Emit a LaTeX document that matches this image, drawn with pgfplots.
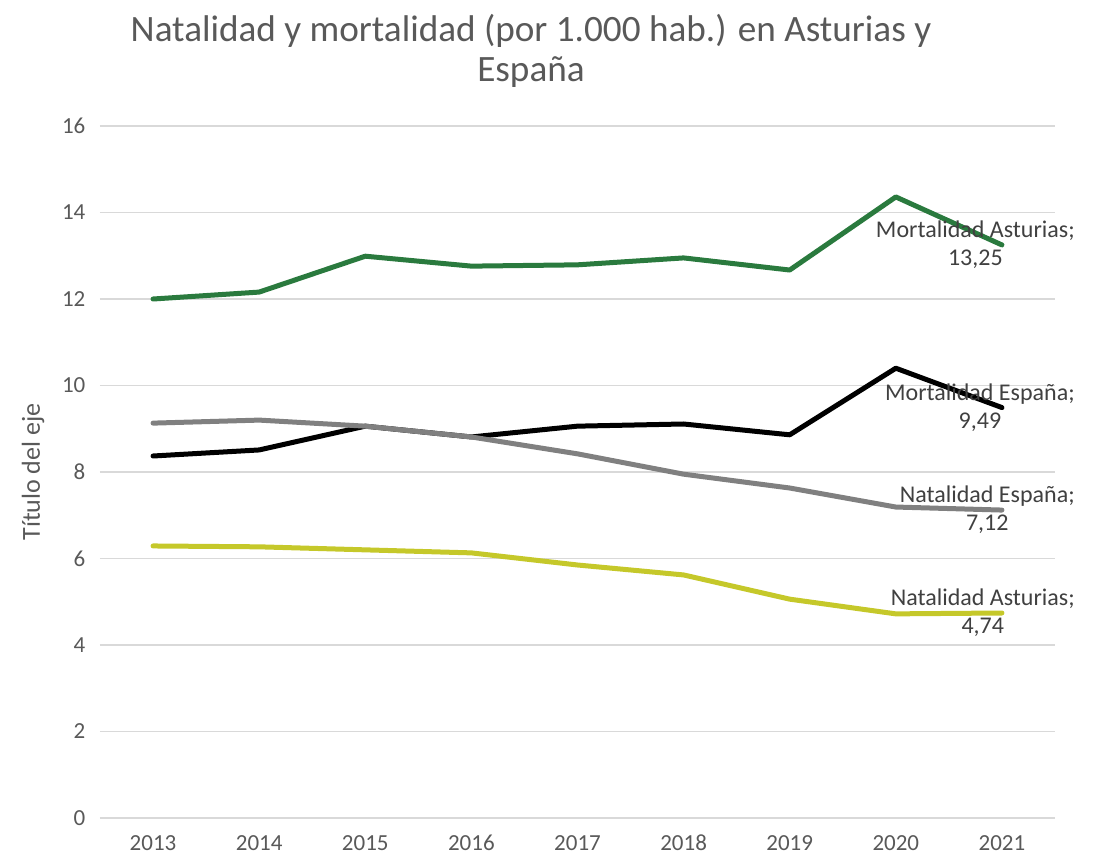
\documentclass[border=0pt]{standalone}
\usepackage{fontspec}
\setmainfont{Carlito}
\usepackage{pgfplots}
\pgfplotsset{compat=1.18}
\definecolor{cMA}{RGB}{42,122,62}
\definecolor{cME}{RGB}{0,0,0}
\definecolor{cNE}{RGB}{128,128,128}
\definecolor{cNA}{RGB}{197,200,42}
\definecolor{txt}{HTML}{595959}
\definecolor{lbl}{HTML}{404040}
\definecolor{grd}{HTML}{D9D9D9}
\tikzset{labelnode/.style={pos=1, anchor=east, xshift=41pt, align=center, font=\fontsize{12}{14}\selectfont, text=lbl}}
\begin{document}
\begin{tikzpicture}
\path[use as bounding box] (-50pt,-20.5pt) rectangle (499.5pt,409pt);
\begin{axis}[
  at={(0,0)}, anchor=south west,
  scale only axis, width=477.5pt, height=346pt,
  xmin=-0.5, xmax=8.5, ymin=0, ymax=16,
  clip=false,
  xtick={0,1,2,3,4,5,6,7,8},
  xticklabels={2013,2014,2015,2016,2017,2018,2019,2020,2021},
  ytick={0,2,4,6,8,10,12,14,16},
  axis line style={draw=none},
  major tick length=0pt,
  ymajorgrids, grid style={draw=grd, line width=0.75pt},
  tick label style={font=\fontsize{11.5}{13}\selectfont, text=txt},
  /pgf/number format/assume math mode=true,
  yticklabel style={xshift=-3.8pt},
  xticklabel style={yshift=-4pt, text height=8.5pt, text depth=0pt},
  ylabel={Título del eje},
  every axis y label/.style={at={(axis description cs:-0.0702,0.5)}, rotate=90, anchor=center, font=\fontsize{13}{15}\selectfont, text=txt},
  every axis plot/.append style={line width=2.5pt, line join=round, line cap=round},
]
\addplot[color=cMA, mark=none] coordinates {(0,12.00) (1,12.16) (2,12.99) (3,12.76) (4,12.79) (5,12.95) (6,12.67) (7,14.36) (8,13.25)}
  node[labelnode] {Mortalidad Asturias;\\13,25};
\addplot[color=cME, mark=none] coordinates {(0,8.37) (1,8.51) (2,9.06) (3,8.81) (4,9.06) (5,9.11) (6,8.86) (7,10.40) (8,9.49)}
  node[labelnode] {Mortalidad España;\\9,49};
\addplot[color=cNE, mark=none] coordinates {(0,9.13) (1,9.20) (2,9.06) (3,8.81) (4,8.42) (5,7.95) (6,7.63) (7,7.19) (8,7.12)}
  node[labelnode] {Natalidad España;\\7,12};
\addplot[color=cNA, mark=none] coordinates {(0,6.29) (1,6.27) (2,6.20) (3,6.13) (4,5.85) (5,5.62) (6,5.06) (7,4.72) (8,4.74)}
  node[labelnode] {Natalidad Asturias;\\4,74};
\end{axis}
\node[align=center, font=\fontsize{18.6}{20}\selectfont, text=txt] at (215.5pt,383.5pt) {Natalidad y mortalidad (por 1.000 hab.) en Asturias y\\España};
\end{tikzpicture}
\end{document}
